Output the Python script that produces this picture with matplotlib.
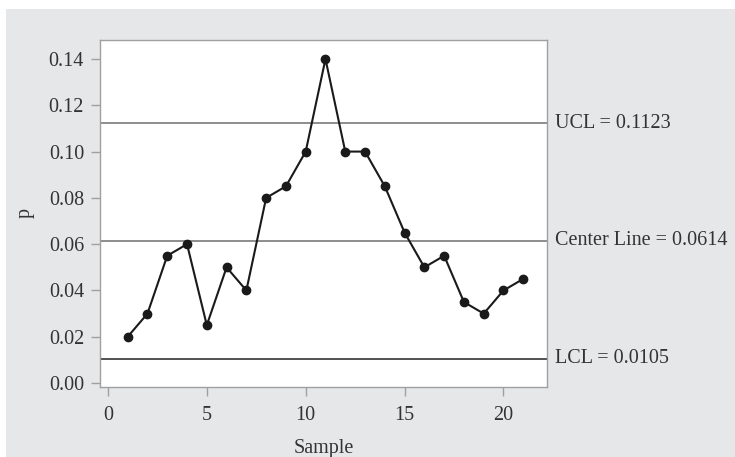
import matplotlib
matplotlib.use("Agg")
import matplotlib.pyplot as plt
from matplotlib.patches import Rectangle

samples = list(range(1, 22))
p_values = [0.020, 0.030, 0.055, 0.060, 0.025, 0.050, 0.040, 0.080, 0.085, 0.100,
            0.140, 0.100, 0.100, 0.085, 0.065, 0.050, 0.055, 0.035, 0.030, 0.040, 0.045]
ucl = 0.1123
center = 0.0614
lcl = 0.0105
limit_labels = ["UCL = 0.1123", "Center Line = 0.0614", "LCL = 0.0105"]
x_ticks = [0, 5, 10, 15, 20]
y_ticks = [0.00, 0.02, 0.04, 0.06, 0.08, 0.10, 0.12, 0.14]

plt.rcParams['font.family'] = ['Liberation Serif', 'DejaVu Serif']
W, H = 735, 457
fig = plt.figure(figsize=(W / 100, H / 100), dpi=100, facecolor='white')
bg = Rectangle((6 / W, 0), 1 - 6 / W, 1 - 9 / H, transform=fig.transFigure,
               facecolor='#e6e7e9', edgecolor='none', zorder=-10)
fig.add_artist(bg)

ax = fig.add_axes([100 / W, 1 - 387 / H, (547 - 100) / W, (387 - 40) / H])
ax.set_zorder(1)
ax.set_facecolor('white')
ax.set_xlim(-0.4, 22.2)
ax.set_ylim(-0.0017, 0.1482)

txt = '#333333'
fs = 14.5
for val, col in [(ucl, '#7a7a7a'), (center, '#7a7a7a'), (lcl, '#333333')]:
    ax.axhline(val, color=col, lw=1.2, zorder=2)
for val, lab in zip([ucl, center, lcl], limit_labels):
    ax.annotate(lab, xy=(1, val), xycoords=('axes fraction', 'data'), xytext=(6, 0),
                textcoords='offset points', va='center', ha='left', fontsize=fs, color=txt,
                annotation_clip=False)

ax.plot(samples, p_values, color='#1a1a1a', lw=1.5, marker='o', ms=6, zorder=3)

ax.set_xticks(x_ticks)
ax.set_yticks(y_ticks)
ax.set_yticklabels([f"{v:.2f}" for v in y_ticks])
for s in ax.spines.values():
    s.set_color('#a0a0a0')
    s.set_linewidth(1.0)
ax.tick_params(direction='out', length=6.5, width=1, color='#a0a0a0', labelcolor=txt,
               labelsize=fs)
ax.tick_params(axis='y', pad=5)
ax.tick_params(axis='x', pad=7)
ax.set_xlabel('Sample', fontsize=fs, color=txt, labelpad=10)
ax.set_ylabel('p', fontsize=fs, color=txt, labelpad=10)

fig.savefig('out.png', dpi=100, facecolor='white')
